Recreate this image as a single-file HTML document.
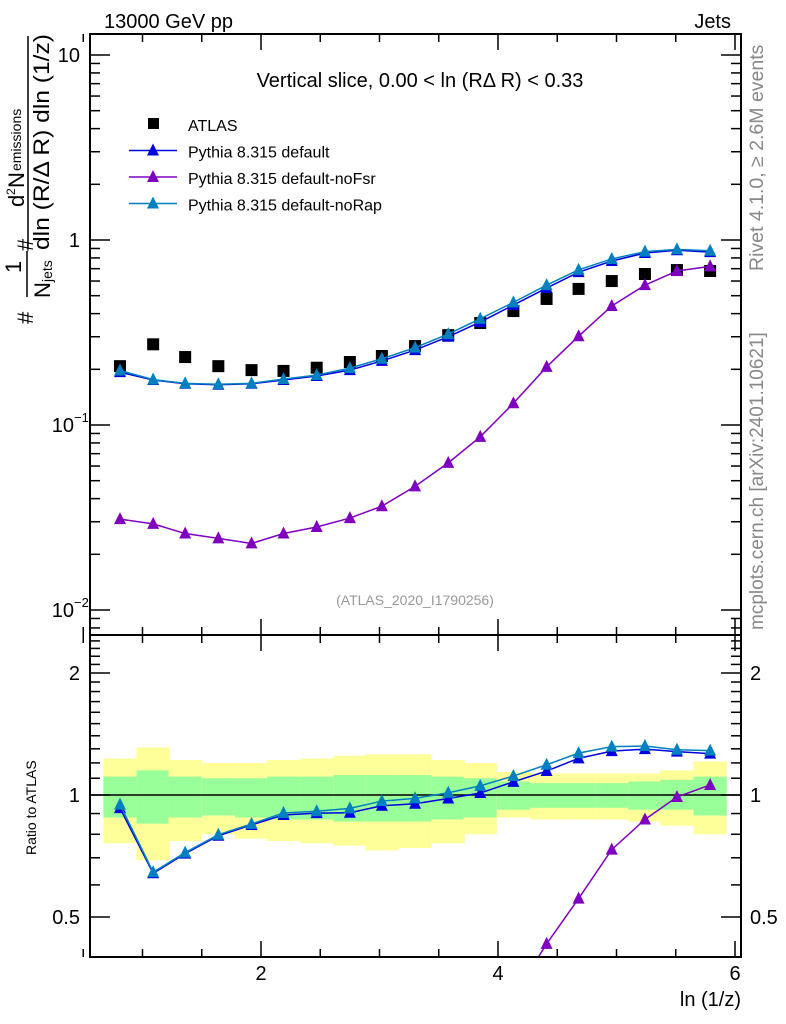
<!DOCTYPE html>
<html><head><meta charset="utf-8"><style>
html,body{margin:0;padding:0;background:#fff;overflow:hidden;width:786px;height:1024px;}
svg{display:block;overflow:hidden;font-family:"Liberation Sans",sans-serif;}
</style></head><body>
<svg id="c" width="786" height="1024" viewBox="0 0 786 1024" xmlns="http://www.w3.org/2000/svg">
<defs>
<clipPath id="clipMain"><rect x="90" y="34" width="651" height="601"/></clipPath>
<clipPath id="clipRatio"><rect x="90" y="635" width="651" height="322"/></clipPath>
</defs>
<g id="bands" clip-path="url(#clipRatio)"></g>
<g id="grid"></g>
<g id="series"></g>
<rect x="90" y="34" width="651" height="601" fill="none" stroke="#000" stroke-width="2"/>
<rect x="90" y="635" width="651" height="322" fill="none" stroke="#000" stroke-width="2"/>
<text x="104" y="28" font-size="20">13000 GeV pp</text>
<text x="731" y="28" font-size="20" text-anchor="end">Jets</text>
<text x="420" y="87" font-size="20" text-anchor="middle">Vertical slice, 0.00 &lt; ln (RΔ R) &lt; 0.33</text>
<text x="415" y="605" font-size="14" fill="#999" text-anchor="middle">(ATLAS_2020_I1790256)</text>
<text transform="translate(763,271) rotate(-90)" font-size="19.5" fill="#888">Rivet 4.1.0, ≥ 2.6M events</text>
<text transform="translate(763,630) rotate(-90)" font-size="19" fill="#888">mcplots.cern.ch [arXiv:2401.10621]</text>
<g>
<text transform="translate(33,324) rotate(-90)" font-size="22">#</text>
<text transform="translate(21,273) rotate(-90)" font-size="22">1</text>
<line x1="27" y1="297" x2="27" y2="251" stroke="#000" stroke-width="1.5"/>
<text transform="translate(50,298) rotate(-90)" font-size="22">N</text>
<text transform="translate(52,282) rotate(-90)" font-size="14">jets</text>
<text transform="translate(33,251) rotate(-90)" font-size="22">#</text>
<text transform="translate(24,207) rotate(-90)" font-size="22">d</text>
<text transform="translate(15,195) rotate(-90)" font-size="12">2</text>
<text transform="translate(24,188) rotate(-90)" font-size="22">N</text>
<text transform="translate(21,171) rotate(-90)" font-size="14">emissions</text>
<line x1="28" y1="249" x2="28" y2="36" stroke="#000" stroke-width="1.5"/>
<text transform="translate(49,250) rotate(-90)" font-size="22" textLength="216" lengthAdjust="spacingAndGlyphs">dln (R/Δ R) dln (1/z)</text>
</g>
<text transform="translate(36,855) rotate(-90)" font-size="14">Ratio to ATLAS</text>
<text x="741" y="1006" font-size="20" text-anchor="end">ln (1/z)</text>
<g id="legend"></g>
</svg>
<script>
const xVals=[0.81,1.09,1.36,1.64,1.92,2.19,2.47,2.75,3.02,3.30,3.58,3.85,4.13,4.41,4.68,4.96,5.24,5.51,5.79];
const atlas=[0.208,0.273,0.233,0.208,0.198,0.196,0.204,0.219,0.236,0.267,0.306,0.356,0.413,0.48,0.544,0.60,0.655,0.688,0.68];
const pyDefault=[0.193,0.175,0.167,0.165,0.167,0.175,0.184,0.198,0.222,0.254,0.30,0.36,0.445,0.55,0.67,0.77,0.85,0.88,0.86];
const pyNoFsr=[0.031,0.0292,0.0259,0.0244,0.0229,0.0259,0.0281,0.0314,0.0364,0.0466,0.0624,0.0863,0.131,0.206,0.302,0.44,0.57,0.68,0.72];
const pyNoRap=[0.197,0.176,0.168,0.166,0.168,0.177,0.186,0.203,0.228,0.262,0.31,0.375,0.46,0.57,0.69,0.79,0.865,0.89,0.875];
const greenHi=[1.11,1.15,1.11,1.10,1.10,1.11,1.11,1.12,1.12,1.12,1.11,1.10,1.08,1.07,1.07,1.07,1.08,1.09,1.11];
const greenLo=[0.88,0.85,0.88,0.89,0.88,0.87,0.87,0.86,0.86,0.86,0.87,0.88,0.92,0.93,0.93,0.93,0.92,0.92,0.89];
const yellowHi=[1.23,1.31,1.22,1.20,1.20,1.22,1.23,1.25,1.26,1.26,1.22,1.20,1.14,1.13,1.13,1.13,1.13,1.15,1.21];
const yellowLo=[0.76,0.69,0.77,0.80,0.78,0.77,0.76,0.75,0.73,0.74,0.76,0.80,0.88,0.87,0.87,0.87,0.86,0.84,0.80];
const xTicks=[2,4,6];
const yMainTicks=[10,1,0.1,0.01];
const yRatioTicks=[0.5,1,2];

const NS="http://www.w3.org/2000/svg";
const X=v=>24+118.5*v;
const Y=v=>240-185*Math.log10(v);
const R=v=>795-122*Math.log2(v);
function mk(tag,attrs,parent){const e=document.createElementNS(NS,tag);for(const k in attrs)e.setAttribute(k,attrs[k]);parent.appendChild(e);return e;}
const grid=document.getElementById('grid'),series=document.getElementById('series'),bands=document.getElementById('bands'),legend=document.getElementById('legend');

const half=(X(xVals[1])-X(xVals[0]))/2;
xVals.forEach((x,i)=>{
 const y1=mk('rect',{x:X(x)-half,y:R(yellowHi[i]),width:2*half,height:R(yellowLo[i])-R(yellowHi[i]),fill:'#ffff99'},bands);
 
 
 const g1=mk('rect',{x:X(x)-half,y:R(greenHi[i]),width:2*half,height:R(greenLo[i])-R(greenHi[i]),fill:'#99ff99'},bands);
 
 
});
mk('line',{x1:90,x2:741,y1:R(1),y2:R(1),stroke:'#000','stroke-width':1.5},bands);

for(let v=0.5;v<=6.01;v+=0.5){
 const major=Math.abs(v-Math.round(v/2)*2)<1e-6;
 const L=major?16:8;
 [34,635].forEach(yb=>{mk('line',{x1:X(v),x2:X(v),y1:yb,y2:yb+L,stroke:'#000','stroke-width':1.5},grid);});
 [635,957].forEach(yb=>{mk('line',{x1:X(v),x2:X(v),y1:yb,y2:yb-L,stroke:'#000','stroke-width':1.5},grid);});
}
xTicks.forEach(v=>{const t=mk('text',{x:X(v),y:980,'font-size':20,'text-anchor':'middle'},grid);t.textContent=v;
 
 });
for(let d=-3;d<=1;d++)for(let m=1;m<=9;m++){const v=m*Math.pow(10,d);const y=Y(v);if(y<35||y>634)continue;
 const L=m==1?20:10;
 mk('line',{x1:90,x2:90+L,y1:y,y2:y,stroke:'#000','stroke-width':1.5},grid);
 mk('line',{x1:741,x2:741-L,y1:y,y2:y,stroke:'#000','stroke-width':1.5},grid);}
const mainLabels=['10','1','10','10'],mainExp=['','','−1','−2'];
yMainTicks.forEach((v,i)=>{const t=mk('text',{x:mainExp[i]?74:80,y:Y(v)+7,'font-size':20,'text-anchor':'end'},grid);t.textContent=mainLabels[i];
 
 
 if(mainExp[i]){const e=mk('text',{x:74,y:Y(v)-3,'font-size':13},grid);e.textContent=mainExp[i];}});
for(let v=0.4;v<=2.5;v+=0.1){const y=R(v);if(y<636||y>956)continue;const maj=yRatioTicks.some(t=>Math.abs(t-v)<1e-6);const L=maj?20:10;
 mk('line',{x1:90,x2:90+L,y1:y,y2:y,stroke:'#000','stroke-width':1.5},grid);
 mk('line',{x1:741,x2:741-L,y1:y,y2:y,stroke:'#000','stroke-width':1.5},grid);}
yRatioTicks.forEach(v=>{[80,750].forEach(x=>{const t=mk('text',{x:x,y:R(v)+7,'font-size':20,'text-anchor':x<100?'end':'start'},grid);t.textContent=v;
 
 });});

function tri(g,x,y,c){mk('polygon',{points:`${x},${y-7} ${x-6},${y+5} ${x+6},${y+5}`,fill:c},g);}
function drawModel(vals,color,name){
 const g=mk('g',{'clip-path':'url(#clipMain)'},series);
 
 
 mk('polyline',{points:xVals.map((x,i)=>X(x)+','+Y(vals[i])).join(' '),fill:'none',stroke:color,'stroke-width':1.5},g);
 xVals.forEach((x,i)=>tri(g,X(x),Y(vals[i]),color));
 const gr=mk('g',{'clip-path':'url(#clipRatio)'},series);
 
 
 mk('polyline',{points:xVals.map((x,i)=>X(x)+','+R(vals[i]/atlas[i])).join(' '),fill:'none',stroke:color,'stroke-width':1.5},gr);
 xVals.forEach((x,i)=>tri(gr,X(x),R(vals[i]/atlas[i]),color));
}
const ga=mk('g',{'clip-path':'url(#clipMain)'},series);


xVals.forEach((x,i)=>mk('rect',{x:X(x)-6,y:Y(atlas[i])-6,width:12,height:12,fill:'#000'},ga));
drawModel(pyNoFsr,'#8000c0','pythia-noFsr');
drawModel(pyDefault,'#0000e0','pythia-default');
drawModel(pyNoRap,'#0080c0','pythia-noRap');

const items=[['ATLAS','#000',0],['Pythia 8.315 default','#0000e0',1],['Pythia 8.315 default-noFsr','#8000c0',1],['Pythia 8.315 default-noRap','#0080c0',1]];
items.forEach((it,i)=>{const y=124+i*26.5;
 const g=mk('g',{},legend);
 
 
 if(it[2]){mk('line',{x1:129,x2:177,y1:y,y2:y,stroke:it[1],'stroke-width':1.5},g);tri(g,153,y,it[1]);}
 else mk('rect',{x:148,y:y-6,width:11,height:11,fill:'#000'},g);
 const t=mk('text',{x:188,y:y+7,'font-size':16},g);t.textContent=it[0];});
</script>
</body></html>
